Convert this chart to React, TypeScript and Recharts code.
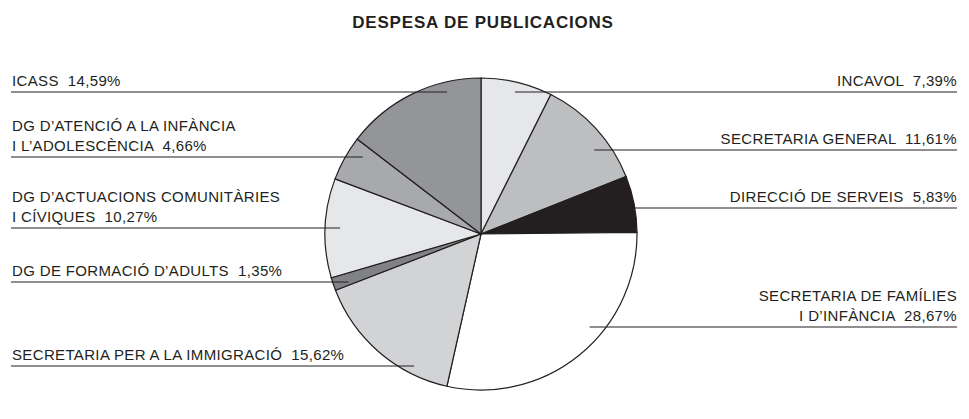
import React from "react";
import { PieChart, Pie, Cell, Customized } from "recharts";

// label text, one entry per line as printed
const labelLines: string[][] = [
  ["INCAVOL"],
  ["SECRETARIA GENERAL"],
  ["DIRECCIÓ DE SERVEIS"],
  ["SECRETARIA DE FAMÍLIES", "I D’INFÀNCIA"],
  ["SECRETARIA PER A LA IMMIGRACIÓ"],
  ["DG DE FORMACIÓ D’ADULTS"],
  ["DG D’ACTUACIONS COMUNITÀRIES", "I CÍVIQUES"],
  ["DG D’ATENCIÓ A LA INFÀNCIA", "I L’ADOLESCÈNCIA"],
  ["ICASS"],
];

const categories = labelLines.map((l) => l.join(" "));

// percentage of spending
const shares = [7.39, 11.61, 5.83, 28.67, 15.62, 1.35, 10.27, 4.66, 14.59];

const fills = [
  "#e6e7e8",
  "#bcbec0",
  "#231f20",
  "#ffffff",
  "#d1d3d4",
  "#808285",
  "#e6e7e8",
  "#a7a9ac",
  "#939598",
];

// where each callout sits (line height on page, how far into the pie it reaches)
const labelLayout = [
  { side: "right", y: 92, reach: 146 },
  { side: "right", y: 150, reach: 141 },
  { side: "right", y: 208, reach: 154 },
  { side: "right", y: 327, reach: 143 },
  { side: "left", y: 366, reach: 148 },
  { side: "left", y: 282, reach: 141 },
  { side: "left", y: 228, reach: 141 },
  { side: "left", y: 157, reach: 141 },
  { side: "left", y: 92, reach: 146 },
];

const data = categories.map((name, i) => ({ name, value: shares[i] }));

const INK = "#231f20";
const FONT = "'Liberation Sans', Arial, Helvetica, sans-serif";
const LEFT_X = 11;
const RIGHT_X = 957;

const fmt = (v: number) => v.toFixed(2).replace(".", ",") + "%";

const renderLabel = (props: any) => {
  const { index } = props;
  const cx = props.cx;
  const cy = props.cy;
  const lay = labelLayout[index];
  const lines = labelLines[index].slice();
  lines[lines.length - 1] = lines[lines.length - 1] + "  " + fmt(shares[index]);
  const dy = lay.y - cy;
  const dx = Math.sqrt(Math.max(0, lay.reach * lay.reach - dy * dy));
  const right = lay.side === "right";
  const ex = right ? cx + dx : cx - dx;
  const tx = right ? RIGHT_X : LEFT_X + 1;
  const n = lines.length;
  return (
    <g key={`lab-${index}`}>
      <line
        x1={right ? ex : LEFT_X}
        x2={right ? RIGHT_X : ex}
        y1={lay.y}
        y2={lay.y}
        stroke={INK}
        strokeWidth={1.1}
      />
      <text
        textAnchor={right ? "end" : "start"}
        fontFamily={FONT}
        fontSize={15}
        letterSpacing={0.35}
        fill={INK}
        style={{ whiteSpace: "pre" }}
      >
        {lines.map((l, i) => (
          <tspan key={i} x={tx} y={lay.y - 6 - (n - 1 - i) * 20.5}>
            {l}
          </tspan>
        ))}
      </text>
    </g>
  );
};

const Header = () => (
  <g>
    <rect x={11} y={3} width={945} height={3.5} fill={INK} />
    <text
      x={483}
      y={28}
      textAnchor="middle"
      fontFamily={FONT}
      fontWeight="bold"
      fontSize={17}
      letterSpacing={0.8}
      fill={INK}
    >
      DESPESA DE PUBLICACIONS
    </text>
  </g>
);

export default function App() {
  return (
    <div style={{ margin: -8, width: 969, height: 419, background: "#fff" }}>
      <PieChart width={969} height={419} margin={{ top: 0, right: 0, bottom: 0, left: 0 }}>
        <Customized component={Header} />
        <Pie
          data={data}
          dataKey="value"
          nameKey="name"
          cx={481}
          cy={234}
          outerRadius={156}
          startAngle={90}
          endAngle={-270}
          stroke={INK}
          strokeWidth={1.2}
          label={renderLabel}
          labelLine={false}
          isAnimationActive={false}
        >
          {data.map((d, i) => (
            <Cell key={`cell-${i}`} fill={fills[i]} />
          ))}
        </Pie>
      </PieChart>
    </div>
  );
}
